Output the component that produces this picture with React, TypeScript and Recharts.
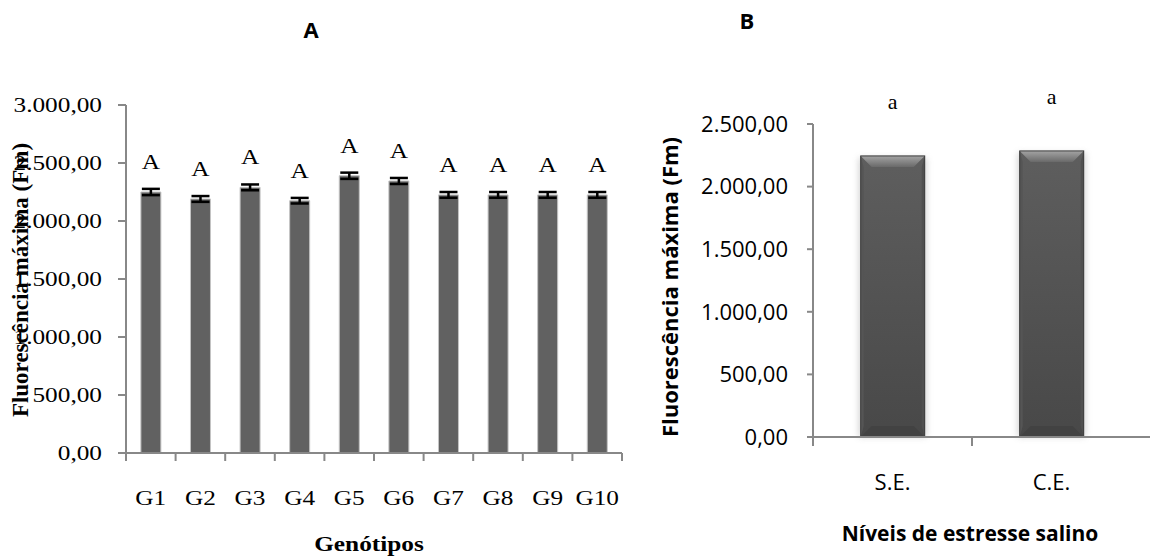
import React from "react"
import { BarChart, Bar, XAxis, YAxis, ErrorBar, LabelList } from "recharts"

// painel A - genótipos
const genotypes = ["G1", "G2", "G3", "G4", "G5", "G6", "G7", "G8", "G9", "G10"]
const fmGenotypes = [2250, 2190, 2290, 2175, 2390, 2345, 2225, 2225, 2225, 2225]
const errGenotypes = [27, 25, 25, 24, 27, 26, 25, 25, 25, 25]
const lettersGenotypes = ["A", "A", "A", "A", "A", "A", "A", "A", "A", "A"]
const ticksA = [0, 500, 1000, 1500, 2000, 2500, 3000]

// painel B - níveis de estresse salino
const levels = ["S.E.", "C.E."]
const fmLevels = [2245, 2285]
const lettersLevels = ["a", "a"]
const ticksB = [0, 500, 1000, 1500, 2000, 2500]

const dataA = genotypes.map((g, i) => ({
  name: g,
  fm: fmGenotypes[i],
  err: errGenotypes[i],
  letter: lettersGenotypes[i],
}))

const dataB = levels.map((l, i) => ({
  name: l,
  fm: fmLevels[i],
  letter: lettersLevels[i],
}))

const SERIF = '"Liberation Serif", "Times New Roman", serif'
const SANS = '"Open Sans", "DejaVu Sans", sans-serif'
const AXIS = "#888888"
const STRETCH_A = 1.15 // panel A text is a bit wide in the original

// 3.000,00 style
const fmtBR = (v: number) => {
  const [int, dec] = v.toFixed(2).split(".")
  return int.replace(/\B(?=(\d{3})+(?!\d))/g, ".") + "," + dec
}

// category tick: tick mark on the category boundary (Excel style), label centred
const makeCatTick =
  (opts: {
    tickSize: number
    tickMargin: number
    half: number
    count: number
    closeEnd: boolean
    fontFamily: string
    fontSize: number
    stretch: number
  }) =>
  (props: any) => {
    const { x, y, payload, index } = props
    const half = typeof payload?.offset === "number" && payload.offset > 0 ? payload.offset : opts.half
    const axisY = y - opts.tickSize - opts.tickMargin
    return (
      <g>
        <line x1={x - half} x2={x - half} y1={axisY} y2={axisY + opts.tickSize} stroke={AXIS} strokeWidth={2} />
        {opts.closeEnd && index === opts.count - 1 && (
          <line x1={x + half} x2={x + half} y1={axisY} y2={axisY + opts.tickSize} stroke={AXIS} strokeWidth={2} />
        )}
        <text
          transform={`translate(${x},${y}) scale(${opts.stretch},1)`}
          dy="0.71em"
          textAnchor="middle"
          fill="#000"
          fontFamily={opts.fontFamily}
          fontSize={opts.fontSize}
        >
          {payload.value}
        </text>
      </g>
    )
  }

const YTickA = (props: any) => {
  const { x, y, payload } = props
  return (
    <text
      transform={`translate(${x},${y}) scale(${STRETCH_A},1)`}
      dy="0.34em"
      textAnchor="end"
      fill="#000"
      fontFamily={SERIF}
      fontSize={22}
    >
      {fmtBR(payload.value)}
    </text>
  )
}

const LetterA = (props: any) => {
  const { x, y, width, value } = props
  return (
    <text
      transform={`translate(${x + width / 2},${y - 23}) scale(${STRETCH_A},1)`}
      textAnchor="middle"
      fill="#000"
      fontFamily={SERIF}
      fontSize={22}
    >
      {value}
    </text>
  )
}

const BevelBar = (props: any) => {
  const { x, y, width, height } = props
  if (!width || !height) return null
  const b = Math.min(11, width / 4, height / 4)
  return (
    <g>
      <defs>
        <filter id="bglow" x="-30%" y="-30%" width="160%" height="160%">
          <feGaussianBlur stdDeviation="3" />
        </filter>
        <linearGradient id="bbody" x1="0" y1="0" x2="0" y2="1">
          <stop offset="0%" stopColor="#5e5e5e" />
          <stop offset="100%" stopColor="#484848" />
        </linearGradient>
        <linearGradient id="btop" x1="0" y1="0" x2="0" y2="1">
          <stop offset="0%" stopColor="#a4a4a4" />
          <stop offset="100%" stopColor="#6a6a6a" />
        </linearGradient>
      </defs>
      <rect x={x - 2} y={y + 2} width={width + 4} height={height - 2} fill="#a0a0a0" opacity={0.45} filter="url(#bglow)" />
      <rect x={x} y={y} width={width} height={height} fill="url(#bbody)" />
      <polygon
        points={`${x},${y} ${x + width},${y} ${x + width - b},${y + b} ${x + b},${y + b}`}
        fill="url(#btop)"
      />
      <polygon points={`${x},${y} ${x + 3},${y + b} ${x + 3},${y + height - b} ${x},${y + height}`} fill="#555555" />
      <polygon
        points={`${x + width},${y} ${x + width - 3},${y + b} ${x + width - 3},${y + height - b} ${x + width},${y + height}`}
        fill="#505050"
      />
      <polygon
        points={`${x},${y + height} ${x + b},${y + height - b} ${x + width - b},${y + height - b} ${x + width},${y + height}`}
        fill="#424242"
      />
      <rect x={x} y={y} width={width} height={height} fill="none" stroke="#3c3c3c" strokeWidth={1} />
    </g>
  )
}

const txt = (cx: number, cy: number, style: React.CSSProperties, transform = "") => ({
  position: "absolute" as const,
  left: cx,
  top: cy,
  transform: `translate(-50%, -50%) ${transform}`,
  lineHeight: 1,
  whiteSpace: "nowrap" as const,
  color: "#000",
  ...style,
})

export default function App() {
  return (
    <div style={{ position: "absolute", left: 0, top: 0, width: 1150, height: 556, background: "#fff", overflow: "hidden" }}>
      {/* painel A */}
      <div style={{ position: "absolute", left: 0, top: 0 }}>
        <BarChart
          width={640}
          height={556}
          data={dataA}
          barCategoryGap="30%"
          margin={{ top: 105, right: 18, bottom: 0, left: 0 }}
        >
          <XAxis
            dataKey="name"
            height={103}
            interval={0}
            stroke={AXIS}
            axisLine={{ stroke: AXIS, strokeWidth: 2 }}
            tickLine={false}
            tickSize={8}
            tickMargin={28}
            tick={makeCatTick({
              tickSize: 8,
              tickMargin: 28,
              half: 24.8,
              count: genotypes.length,
              closeEnd: true,
              fontFamily: SERIF,
              fontSize: 22,
              stretch: STRETCH_A,
            })}
          />
          <YAxis
            width={126}
            domain={[0, 3000]}
            ticks={ticksA}
            interval={0}
            stroke={AXIS}
            axisLine={{ stroke: AXIS, strokeWidth: 2 }}
            tickLine={{ stroke: AXIS, strokeWidth: 2 }}
            tickSize={8}
            tickMargin={16}
            tick={<YTickA />}
          />
          <Bar dataKey="fm" fill="#616161" stroke="#c4c4c4" strokeWidth={1} isAnimationActive={false}>
            <ErrorBar dataKey="err" width={9} stroke="#000" strokeWidth={2.5} />
            <LabelList dataKey="letter" content={<LetterA />} />
          </Bar>
        </BarChart>
      </div>

      {/* painel B */}
      <div style={{ position: "absolute", left: 600, top: 0 }}>
        <BarChart
          width={550}
          height={556}
          data={dataB}
          barCategoryGap="30%"
          margin={{ top: 124, right: 0, bottom: 0, left: 0 }}
        >
          <XAxis
            dataKey="name"
            height={119}
            interval={0}
            padding={{ left: 0, right: 19 }}
            stroke={AXIS}
            axisLine={{ stroke: AXIS, strokeWidth: 2 }}
            tickLine={false}
            tickSize={9}
            tickMargin={28}
            tick={makeCatTick({
              tickSize: 9,
              tickMargin: 28,
              half: 79.5,
              count: levels.length,
              closeEnd: false,
              fontFamily: SANS,
              fontSize: 22,
              stretch: 1,
            })}
          />
          <YAxis
            width={213}
            domain={[0, 2500]}
            ticks={ticksB}
            interval={0}
            stroke={AXIS}
            axisLine={{ stroke: AXIS, strokeWidth: 2 }}
            tickLine={{ stroke: AXIS, strokeWidth: 2 }}
            tickSize={6}
            tickMargin={19}
            tickFormatter={fmtBR}
            tick={{ fill: "#000", fontFamily: SANS, fontSize: 22 }}
          />
          <Bar dataKey="fm" shape={<BevelBar />} isAnimationActive={false}>
            <LabelList dataKey="letter" position="top" offset={47} fill="#000" fontFamily={SERIF} fontSize={22} />
          </Bar>
        </BarChart>
      </div>

      {/* títulos */}
      <div style={txt(311, 29, { fontFamily: SANS, fontWeight: 700, fontSize: 22 })}>A</div>
      <div style={txt(747, 20, { fontFamily: SANS, fontWeight: 700, fontSize: 22 })}>B</div>
      <div style={txt(20, 280, { fontFamily: SERIF, fontWeight: 700, fontSize: 23 }, "rotate(-90deg)")}>
        Fluorescência máxima (Fm)
      </div>
      <div style={txt(369, 544, { fontFamily: SERIF, fontWeight: 700, fontSize: 22 }, `scaleX(${STRETCH_A})`)}>
        Genótipos
      </div>
      <div style={txt(669, 287, { fontFamily: SANS, fontWeight: 700, fontSize: 22 }, "rotate(-90deg)")}>
        Fluorescência máxima (Fm)
      </div>
      <div style={txt(970, 533, { fontFamily: SANS, fontWeight: 700, fontSize: 21 })}>Níveis de estresse salino</div>
    </div>
  )
}
